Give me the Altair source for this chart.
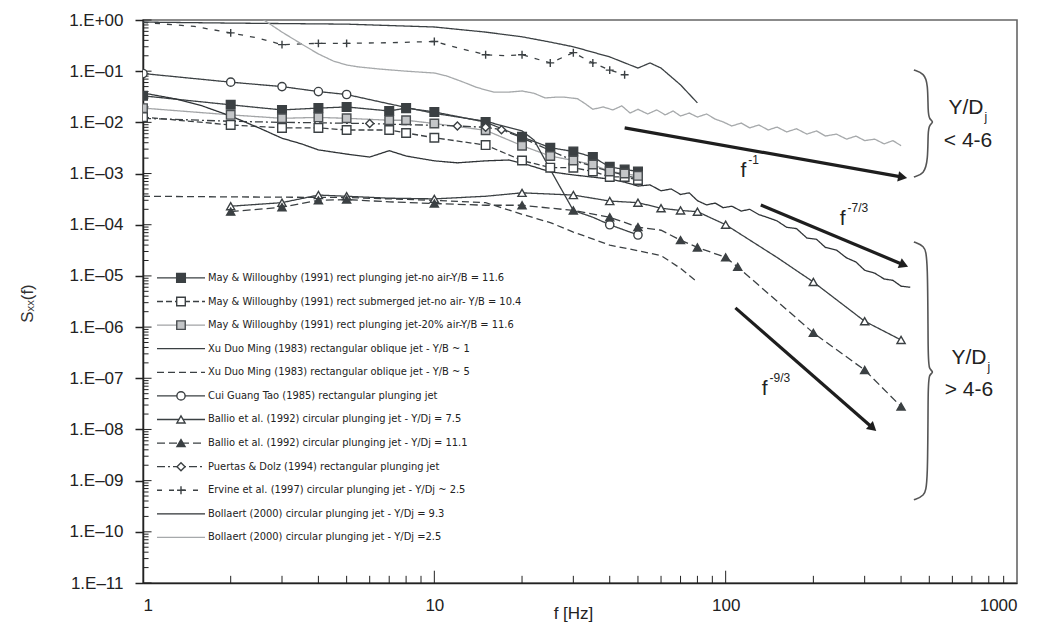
import math
import altair as alt
import pandas as pd

# ---------------- series values ----------------
names = [
    "May & Willoughby (1991) rect plunging jet-no air-Y/B = 11.6",
    "May & Willoughby (1991) rect submerged jet-no air- Y/B = 10.4",
    "May & Willoughby (1991) rect plunging jet-20% air-Y/B = 11.6",
    "Xu Duo Ming (1983) rectangular oblique jet - Y/B ~ 1",
    "Xu Duo Ming (1983) rectangular oblique jet - Y/B ~ 5",
    "Cui Guang Tao (1985) rectangular plunging jet",
    "Ballio et al. (1992) circular plunging jet - Y/Dj = 7.5",
    "Ballio et al. (1992) circular plunging jet - Y/Dj = 11.1",
    "Puertas & Dolz (1994) rectangular plunging jet",
    "Ervine et al. (1997) circular plunging jet - Y/Dj ~ 2.5",
    "Bollaert (2000) circular plunging jet - Y/Dj = 9.3",
    "Bollaert (2000) circular plunging jet - Y/Dj =2.5",
]

may_f = [1, 2, 3, 4, 5, 7, 8, 10, 15, 20, 25, 30, 35, 40, 45, 50]
may1_s = [0.033, 0.022, 0.0175, 0.019, 0.020, 0.0167, 0.019, 0.016, 0.0101, 0.0052,
          0.0032, 0.0027, 0.0021, 0.00135, 0.0012, 0.0011]
may2_s = [0.0127, 0.0089, 0.0078, 0.0078, 0.0071, 0.0071, 0.0062, 0.005, 0.0036, 0.0018,
          0.0013, 0.0013, 0.0011, 0.00086, 0.00086, 0.00075]
may3_s = [0.019, 0.014, 0.012, 0.0125, 0.012, 0.011, 0.011, 0.0095, 0.007, 0.0035,
          0.0022, 0.0018, 0.0015, 0.0011, 0.001, 0.0009]

xu1_f = [1, 2, 5, 10, 15, 20, 25, 30, 40, 50, 55, 60, 70, 80]
xu1_s = [0.91, 0.87, 0.83, 0.73, 0.58, 0.47, 0.37, 0.30, 0.19, 0.115, 0.145, 0.115, 0.054, 0.024]

xu5_f = [1, 2, 5, 10, 15, 20, 25, 30, 40, 50, 60, 70, 80]
xu5_s = [3.6e-4, 3.5e-4, 3.4e-4, 3.0e-4, 2.7e-4, 1.6e-4, 1.1e-4, 7.2e-5, 4.0e-5, 3.1e-5,
         2.5e-5, 1.4e-5, 7.6e-6]

cui_f = [1, 2, 3, 4, 5, 7, 10, 15, 20, 22, 25, 27, 30, 35, 40, 50]
cui_s = [0.09, 0.061, 0.05, 0.04, 0.035, 0.023, 0.015, 0.0105, 0.0068, 0.0045, 0.0012,
         5.5e-4, 1.9e-4, 1.4e-4, 1.0e-4, 6.3e-5]
cui_mk = [1, 1, 1, 1, 1, 0, 0, 0, 0, 0, 0, 0, 0, 0, 1, 1]

b75_f = [2, 3, 4, 5, 7, 10, 15, 20, 30, 40, 50, 60, 70, 80, 100, 150, 200, 300, 400]
b75_s = [2.3e-4, 2.7e-4, 3.8e-4, 3.6e-4, 3.3e-4, 3.2e-4, 3.6e-4, 4.2e-4, 3.8e-4, 2.9e-4,
         2.7e-4, 2.1e-4, 1.9e-4, 1.8e-4, 1.0e-4, 2.3e-5, 7.6e-6, 1.3e-6, 5.6e-7]
b75_mk = [1, 1, 1, 1, 0, 1, 0, 1, 1, 1, 1, 1, 1, 1, 1, 0, 1, 1, 1]

b111_f = [2, 3, 4, 5, 7, 10, 15, 20, 30, 40, 50, 60, 70, 80, 100, 110, 200, 300, 400]
b111_s = [1.8e-4, 2.2e-4, 3.0e-4, 3.1e-4, 2.8e-4, 2.6e-4, 2.4e-4, 2.4e-4, 1.9e-4, 1.4e-4,
          9e-5, 7.8e-5, 5e-5, 3.6e-5, 2.3e-5, 1.5e-5, 7.7e-7, 1.45e-7, 2.8e-8]
b111_mk = [1, 1, 1, 1, 0, 1, 0, 1, 1, 1, 1, 0, 1, 1, 1, 1, 1, 1, 1]

pd_f = [1, 2, 3, 4, 5, 6, 8, 10, 12, 15, 17, 20, 25, 30, 40, 50]
pd_s = [0.012, 0.0105, 0.01, 0.0098, 0.0096, 0.0095, 0.009, 0.0088, 0.0085, 0.008, 0.0072,
        0.005, 0.0028, 0.0018, 0.0011, 0.0008]
pd_mk = [0, 0, 0, 0, 0, 1, 0, 0, 1, 1, 1, 0, 0, 0, 0, 0]

erv_f = [1, 1.5, 2, 2.5, 3, 4, 5, 7, 10, 12.5, 15, 17.5, 20, 25, 30, 35, 40, 45]
erv_s = [0.9, 0.75, 0.56, 0.44, 0.33, 0.35, 0.35, 0.36, 0.38, 0.27, 0.21, 0.2, 0.21, 0.145,
         0.23, 0.145, 0.105, 0.085]
erv_mk = [0, 0, 1, 0, 1, 1, 1, 0, 1, 0, 1, 0, 1, 1, 1, 1, 1, 1]

bol93_f = [1, 1.3, 1.6, 2, 2.5, 3, 3.5, 4, 5, 6, 7, 8, 10, 12, 15, 18, 21, 25, 30, 35, 40,
           45, 50, 55, 60, 65, 70, 75, 80, 86, 92, 98, 105, 113, 121, 130, 140, 150, 162,
           175, 190, 205, 220, 240, 260, 280, 300, 325, 350, 375, 400, 430]
bol93_s = [0.0375, 0.0286, 0.0209, 0.0133, 0.0078, 0.0049, 0.0038, 0.0029, 0.0024, 0.0021,
           0.0028, 0.0022, 0.00177, 0.00162, 0.00177, 0.00184, 0.00147, 0.00108, 0.00094,
           0.00085, 0.00078, 0.00068, 0.00057, 0.0006, 0.00046, 0.0005, 0.00039, 0.00042,
           0.000295, 0.000244, 0.000265, 0.000215, 0.00023, 0.000185, 0.0002, 0.000158,
           0.000137, 0.000119, 0.000089, 0.000084, 0.000055, 0.000052, 0.000036, 0.000032,
           0.0000225, 0.0000187, 0.0000129, 0.0000113, 0.0000087, 0.0000082, 0.0000063,
           0.0000060]

bol25_f = [2.3, 2.6, 3.0, 3.5, 4.0, 4.5, 5.0, 5.5, 6.5, 8, 10, 11, 12.5, 14, 16, 18, 20, 22,
           24, 26, 28, 31, 33, 35, 38, 41, 44, 47, 50, 54, 58, 62, 66, 70, 75, 80, 86, 92,
           98, 105, 113, 121, 130, 140, 150, 162, 175, 190, 205, 220, 240, 260, 280, 300,
           325, 350, 375, 400]
bol25_s = [1.43, 1.0, 0.58, 0.34, 0.217, 0.158, 0.132, 0.121, 0.110, 0.1, 0.092, 0.081,
           0.062, 0.048, 0.039, 0.039, 0.041, 0.037, 0.030, 0.031, 0.031, 0.029, 0.023,
           0.018, 0.020, 0.0175, 0.021, 0.0152, 0.018, 0.0146, 0.0175, 0.014, 0.0167,
           0.0133, 0.0152, 0.0127, 0.0146, 0.0116, 0.0102, 0.0085, 0.0097, 0.0078, 0.0089,
           0.0071, 0.0081, 0.0065, 0.0075, 0.0059, 0.0068, 0.0054, 0.0059, 0.0047, 0.0054,
           0.0044, 0.0047, 0.0038, 0.0044, 0.0035]

# ---------------- annotations (data units) ----------------
arrow_f0 = [45, 132, 108]
arrow_s0 = [7.8e-3, 2.44e-4, 2.37e-6]
arrow_f1 = [405, 409, 320]
arrow_s1 = [8.5e-4, 1.64e-5, 1.07e-8]
slope_f = [115, 252, 136]
slope_s = [1.12e-3, 1.3e-4, 6.2e-8]
slope_txt = ["-1", "-7/3", "-9/3"]

brace1_f = [442.6, 480, 494.6, 494.6, 500, 518.6, 500, 494.6, 494.6, 480, 442.6]
brace1_s = [0.1055, 0.09, 0.0562, 0.016, 0.0115, 0.0102, 0.0089, 0.0065, 0.00184, 0.00098, 0.00086]
brace2_f = [442.6, 480, 494.6, 494.6, 500, 518.6, 500, 494.6, 494.6, 480, 442.6]
brace2_s = [4.61e-5, 3.9e-5, 2.46e-5, 2.1e-7, 1.5e-7, 1.33e-7, 1.17e-7, 8.5e-8, 7.9e-10, 5.0e-10, 4.22e-10]

group_f = [668, 679, 684, 684]
group_s = [0.0191, 4.33e-3, 2.5e-7, 5.9e-8]
group_txt = ["Y/D", "< 4-6", "Y/D", "> 4-6"]

# ---------------- styles ----------------
DARK = "#3b4043"
line_colors = [DARK, DARK, "#a2a4a6", DARK, DARK, DARK, DARK, DARK, DARK, DARK, "#2f3336", "#a6a9ab"]
line_dashes = [[1, 0], [6, 3], [1, 0], [1, 0], [7, 4], [1, 0], [1, 0], [8, 4], [8, 3, 2, 3],
               [5, 7], [1, 0], [1, 0]]
line_widths = [1.3, 1.3, 1.6, 1.0, 1.3, 1.0, 1.0, 2.2, 1.6, 3.0, 1.8, 1.6]
PLUS = "M-1,0L1,0M0,-1L0,1"
mk_shapes = ["square", "square", "square", "circle", "circle", "circle", "triangle-up",
             "triangle-up", "diamond", PLUS, "circle", "circle"]
mk_fills = [DARK, "white", "#c4c6c8", "white", "white", "white", "white", DARK, "white",
            DARK, "white", "white"]
mk_strokes = [DARK, DARK, "#4a4e51", DARK, DARK, DARK, DARK, DARK, DARK, DARK, DARK, DARK]
mk_sizes = [75, 60, 60, 50, 50, 55, 45, 55, 45, 130, 50, 50]

FONT = "Liberation Sans"
NARROW = "DejaVu Sans Condensed"

# ---------------- tables ----------------
series_data = [
    (0, may_f, may1_s, [1] * len(may_f)),
    (1, may_f, may2_s, [1] * len(may_f)),
    (2, may_f, may3_s, [1] * len(may_f)),
    (3, xu1_f, xu1_s, [0] * len(xu1_f)),
    (4, xu5_f, xu5_s, [0] * len(xu5_f)),
    (5, cui_f, cui_s, cui_mk),
    (6, b75_f, b75_s, b75_mk),
    (7, b111_f, b111_s, b111_mk),
    (8, pd_f, pd_s, pd_mk),
    (9, erv_f, erv_s, erv_mk),
    (10, bol93_f, bol93_s, [0] * len(bol93_f)),
    (11, bol25_f, bol25_s, [0] * len(bol25_f)),
]
rows = []
for idx, fs, ss, mks in series_data:
    for f, s, m in zip(fs, ss, mks):
        rows.append({"f": f, "s": s, "series": names[idx], "mk": m})
df = pd.DataFrame(rows)

xs = alt.Scale(type="log", domain=[1, 1000])
ys = alt.Scale(type="log", domain=[1e-11, 1])
color_sc = alt.Scale(domain=names, range=line_colors)
dash_sc = alt.Scale(domain=names, range=line_dashes)
width_sc = alt.Scale(domain=names, range=line_widths)
shape_sc = alt.Scale(domain=names, range=mk_shapes)
fill_sc = alt.Scale(domain=names, range=mk_fills)
stroke_sc = alt.Scale(domain=names, range=mk_strokes)
size_sc = alt.Scale(domain=names, range=mk_sizes)

ylabel = ("'1.E' + (round(log(datum.value)/LN10) >= 0 ? '+' : '\u2013') + "
          "(abs(round(log(datum.value)/LN10)) < 10 ? '0' : '') + abs(round(log(datum.value)/LN10))")

X = alt.X("f:Q", scale=xs, axis=alt.Axis(
    values=[1, 10, 100, 1000], format="d", title="f [Hz]", grid=False, ticks=False,
    labelPadding=14, labelFontSize=17, labelFont=FONT, labelColor="#222",
    titleFont=FONT, titleFontSize=17, titleFontWeight="normal", titleColor="#222",
    titleX=430, titleY=35, titleBaseline="alphabetic", domainColor="#222", domainWidth=1.5))
Y = alt.Y("s:Q", scale=ys, axis=alt.Axis(
    values=[10.0 ** k for k in range(-11, 1)], labelExpr=ylabel, title="S\u2093\u2093(f)",
    grid=False, tickSize=8, tickColor="#222", tickWidth=1.5, labelPadding=12,
    labelFontSize=17, labelFont=FONT, labelColor="#222",
    titleFont=FONT, titleFontSize=17, titleFontWeight="normal", titleColor="#333",
    titleX=-116, titleY=283, titleAlign="center", titleBaseline="middle",
    domainColor="#222", domainWidth=1.5))

lines = alt.Chart(df).mark_line(clip=True).encode(
    x=X, y=Y,
    color=alt.Color("series:N", scale=color_sc, legend=None),
    strokeDash=alt.StrokeDash("series:N", scale=dash_sc, legend=None),
    strokeWidth=alt.StrokeWidth("series:N", scale=width_sc, legend=None),
    detail="series:N",
)

points = alt.Chart(df).transform_filter("datum.mk == 1").mark_point(
    filled=False, opacity=1, strokeWidth=1.4, clip=True).encode(
    x=alt.X("f:Q", scale=xs), y=alt.Y("s:Q", scale=ys),
    shape=alt.Shape("series:N", scale=shape_sc, legend=None),
    fill=alt.Fill("series:N", scale=fill_sc, legend=None),
    stroke=alt.Stroke("series:N", scale=stroke_sc, legend=None),
    size=alt.Size("series:N", scale=size_sc, legend=None),
)

# minor ticks (inside the frame)
xminor = [m * 10 ** k for k in (0, 1, 2) for m in range(2, 10)]
xt = pd.DataFrame({"f": xminor + [10, 100], "s0": 1e-11,
                   "s1": [1e-11 * 10 ** 0.14] * len(xminor) + [1e-11 * 10 ** 0.24] * 2})
xticks = alt.Chart(xt).mark_rule(color="#222", strokeWidth=1).encode(
    x=alt.X("f:Q", scale=xs), y=alt.Y("s0:Q", scale=ys), y2="s1:Q")
yminor = [m * 10.0 ** k for k in range(-11, 0) for m in range(2, 10)]
yt = pd.DataFrame({"s": yminor + [10.0 ** k for k in range(-11, 1)], "f0": 1.0,
                   "f1": [1.045] * len(yminor) + [1.07] * 12})
yticks = alt.Chart(yt).mark_rule(color="#222", strokeWidth=1).encode(
    y=alt.Y("s:Q", scale=ys), x=alt.X("f0:Q", scale=xs), x2="f1:Q")

# slope arrows
ang = []
for f0, s0, f1, s1 in zip(arrow_f0, arrow_s0, arrow_f1, arrow_s1):
    dx = 874 / 3 * math.log10(f1 / f0)
    dy = 563 / 11 * math.log10(s0 / s1)
    ang.append(math.degrees(math.atan2(dy, dx)))
arr = pd.DataFrame({"f0": arrow_f0, "s0": arrow_s0, "f1": arrow_f1, "s1": arrow_s1, "ang": ang})
arrows = alt.Chart(arr).mark_rule(color="#1e1e1e", strokeWidth=3.2).encode(
    x=alt.X("f0:Q", scale=xs), y=alt.Y("s0:Q", scale=ys), x2="f1:Q", y2="s1:Q")
heads = alt.Chart(arr).mark_point(shape="triangle-right", filled=True, color="#1e1e1e",
                                  size=110, opacity=1).encode(
    x=alt.X("f1:Q", scale=xs), y=alt.Y("s1:Q", scale=ys), angle=alt.Angle("ang:Q", scale=None))

sl = pd.DataFrame({"f": slope_f, "s": slope_s, "t": slope_txt})
ftext = alt.Chart(sl).mark_text(text="f", font=FONT, fontSize=21, color="#222").encode(
    x=alt.X("f:Q", scale=xs), y=alt.Y("s:Q", scale=ys))
suptext = alt.Chart(sl).mark_text(font=FONT, fontSize=12, color="#222", align="left",
                                  dx=5, dy=-11).encode(
    x=alt.X("f:Q", scale=xs), y=alt.Y("s:Q", scale=ys), text="t:N")

# braces
br = pd.DataFrame({
    "f": brace1_f + brace2_f, "s": brace1_s + brace2_s,
    "b": ["a"] * len(brace1_f) + ["b"] * len(brace2_f),
    "o": list(range(len(brace1_f))) + list(range(len(brace2_f))),
})
braces = alt.Chart(br).mark_line(color="#555", strokeWidth=1.6, interpolate="basis").encode(
    x=alt.X("f:Q", scale=xs), y=alt.Y("s:Q", scale=ys), detail="b:N", order="o:Q")

gt = pd.DataFrame({"f": group_f, "s": group_s, "t": group_txt})
gtext = alt.Chart(gt).mark_text(font=FONT, fontSize=21, color="#222").encode(
    x=alt.X("f:Q", scale=xs), y=alt.Y("s:Q", scale=ys), text="t:N")
jt = gt[gt["t"] == "Y/D"]
jtext = alt.Chart(jt).mark_text(text="j", font=FONT, fontSize=12, color="#222", dx=20, dy=9).encode(
    x=alt.X("f:Q", scale=xs), y=alt.Y("s:Q", scale=ys))

main = alt.layer(yticks, xticks, lines, points, arrows, heads, ftext, suptext, braces,
                 gtext, jtext)

# legend (inside plot, lower left)
leg = pd.DataFrame({"series": names, "row": list(range(len(names))),
                    "mk": [1, 1, 1, 0, 0, 1, 1, 1, 1, 1, 0, 0]})
row_scale = alt.Scale(domain=[-10.93, 12.93], reverse=True)
LY = alt.Y("row:Q", scale=row_scale, axis=None)
leg_lines = alt.Chart(leg).mark_rule().encode(
    x=alt.value(14), x2=alt.value(62), y=LY,
    color=alt.Color("series:N", scale=color_sc, legend=None),
    strokeDash=alt.StrokeDash("series:N", scale=dash_sc, legend=None),
    strokeWidth=alt.StrokeWidth("series:N", scale=width_sc, legend=None))
leg_pts = alt.Chart(leg).transform_filter("datum.mk == 1").mark_point(
    filled=False, opacity=1, strokeWidth=1.4).encode(
    x=alt.value(38), y=LY,
    shape=alt.Shape("series:N", scale=shape_sc, legend=None),
    fill=alt.Fill("series:N", scale=fill_sc, legend=None),
    stroke=alt.Stroke("series:N", scale=stroke_sc, legend=None),
    size=alt.Size("series:N", scale=size_sc, legend=None))
leg_txt = alt.Chart(leg).mark_text(align="left", baseline="middle", font=NARROW,
                                   fontSize=11, color="#222").encode(
    x=alt.value(65), y=LY, text="series:N")
legend = alt.layer(leg_lines, leg_pts, leg_txt)

chart = alt.layer(main, legend).resolve_scale(y="independent").properties(
    width=874, height=563,
    autosize=alt.AutoSizeParams(type="none"),
    padding={"left": 143, "top": 20, "right": 30, "bottom": 45},
    background="white",
).configure_view(stroke="#666", strokeWidth=1.6)

chart.save("out.html", embed_options={"renderer": "svg", "actions": False})
